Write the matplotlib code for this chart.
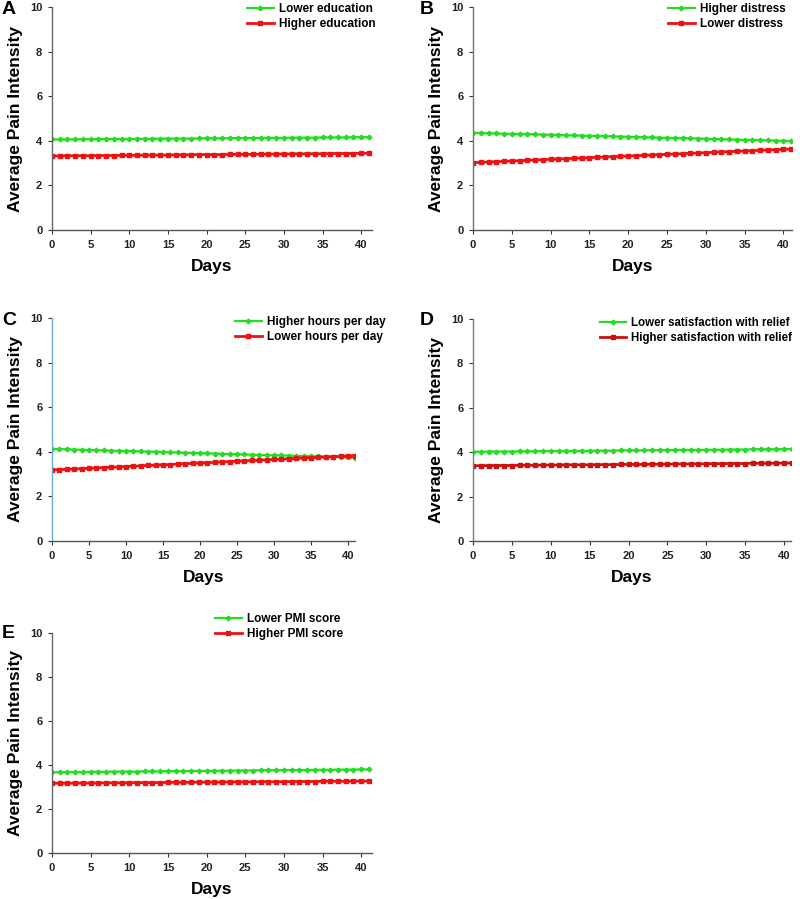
import matplotlib
matplotlib.use("Agg")
import matplotlib.pyplot as plt

plt.rcParams['font.family'] = ['Liberation Sans', 'DejaVu Sans']

days = list(range(42))

a_green = [4.06, 4.06, 4.06, 4.07, 4.07, 4.07, 4.07, 4.08, 4.08, 4.08, 4.08, 4.09, 4.09, 4.09,
           4.09, 4.10, 4.10, 4.10, 4.10, 4.11, 4.11, 4.11, 4.11, 4.12, 4.12, 4.12, 4.12, 4.13,
           4.13, 4.13, 4.13, 4.14, 4.14, 4.14, 4.14, 4.15, 4.15, 4.15, 4.15, 4.16, 4.16, 4.16]
a_red = [3.32, 3.32, 3.33, 3.33, 3.33, 3.33, 3.34, 3.34, 3.34, 3.35, 3.35, 3.35, 3.36, 3.36,
         3.36, 3.36, 3.37, 3.37, 3.37, 3.38, 3.38, 3.38, 3.38, 3.39, 3.39, 3.39, 3.40, 3.40,
         3.40, 3.40, 3.41, 3.41, 3.41, 3.42, 3.42, 3.42, 3.43, 3.43, 3.43, 3.43, 3.44, 3.44]
b_green = [4.36, 4.35, 4.34, 4.33, 4.32, 4.31, 4.31, 4.30, 4.29, 4.28, 4.27, 4.26, 4.25, 4.24,
           4.23, 4.22, 4.22, 4.21, 4.20, 4.19, 4.18, 4.17, 4.16, 4.15, 4.14, 4.13, 4.13, 4.12,
           4.11, 4.10, 4.09, 4.08, 4.07, 4.06, 4.05, 4.04, 4.04, 4.03, 4.02, 4.01, 4.00, 3.99]
b_red = [3.02, 3.03, 3.05, 3.06, 3.08, 3.09, 3.11, 3.12, 3.14, 3.15, 3.17, 3.18, 3.20, 3.21,
         3.23, 3.24, 3.26, 3.27, 3.29, 3.30, 3.32, 3.33, 3.35, 3.36, 3.38, 3.39, 3.41, 3.42,
         3.44, 3.45, 3.47, 3.48, 3.50, 3.51, 3.53, 3.54, 3.56, 3.57, 3.59, 3.60, 3.62, 3.63]
c_green = [4.13, 4.12, 4.11, 4.10, 4.09, 4.08, 4.07, 4.06, 4.05, 4.04, 4.03, 4.03, 4.02, 4.01,
           4.00, 3.99, 3.98, 3.97, 3.96, 3.95, 3.94, 3.93, 3.92, 3.91, 3.90, 3.89, 3.88, 3.87,
           3.86, 3.85, 3.84, 3.84, 3.83, 3.82, 3.81, 3.80, 3.79, 3.78, 3.77, 3.76, 3.75, 3.74]
c_red = [3.18, 3.20, 3.21, 3.23, 3.24, 3.26, 3.28, 3.29, 3.31, 3.32, 3.34, 3.35, 3.37, 3.39,
         3.40, 3.42, 3.43, 3.45, 3.47, 3.48, 3.50, 3.51, 3.53, 3.54, 3.56, 3.58, 3.59, 3.61,
         3.62, 3.64, 3.66, 3.67, 3.69, 3.70, 3.72, 3.73, 3.75, 3.77, 3.78, 3.80, 3.81, 3.83]
d_green = [4.02, 4.02, 4.03, 4.03, 4.03, 4.03, 4.04, 4.04, 4.04, 4.05, 4.05, 4.05, 4.06, 4.06,
           4.06, 4.06, 4.07, 4.07, 4.07, 4.08, 4.08, 4.08, 4.08, 4.09, 4.09, 4.09, 4.10, 4.10,
           4.10, 4.10, 4.11, 4.11, 4.11, 4.12, 4.12, 4.12, 4.13, 4.13, 4.13, 4.13, 4.14, 4.14]
d_red = [3.39, 3.39, 3.40, 3.40, 3.40, 3.40, 3.41, 3.41, 3.41, 3.42, 3.42, 3.42, 3.43, 3.43,
         3.43, 3.43, 3.44, 3.44, 3.44, 3.45, 3.45, 3.45, 3.45, 3.46, 3.46, 3.46, 3.47, 3.47,
         3.47, 3.47, 3.48, 3.48, 3.48, 3.49, 3.49, 3.49, 3.50, 3.50, 3.50, 3.50, 3.51, 3.51]
e_green = [3.67, 3.67, 3.68, 3.68, 3.68, 3.69, 3.69, 3.69, 3.70, 3.70, 3.70, 3.70, 3.71, 3.71,
           3.71, 3.72, 3.72, 3.72, 3.73, 3.73, 3.73, 3.74, 3.74, 3.74, 3.75, 3.75, 3.75, 3.76,
           3.76, 3.76, 3.77, 3.77, 3.77, 3.77, 3.78, 3.78, 3.78, 3.79, 3.79, 3.79, 3.80, 3.80]
e_red = [3.17, 3.17, 3.17, 3.18, 3.18, 3.18, 3.18, 3.19, 3.19, 3.19, 3.19, 3.20, 3.20, 3.20,
         3.20, 3.21, 3.21, 3.21, 3.21, 3.22, 3.22, 3.22, 3.22, 3.23, 3.23, 3.23, 3.23, 3.24,
         3.24, 3.24, 3.24, 3.25, 3.25, 3.25, 3.25, 3.26, 3.26, 3.26, 3.26, 3.27, 3.27, 3.27]

panel_letters = ["A", "B", "C", "D", "E"]
green_labels = ["Lower education", "Higher distress", "Higher hours per day",
                "Lower satisfaction with relief", "Lower PMI score"]
red_labels = ["Higher education", "Lower distress", "Lower hours per day",
              "Higher satisfaction with relief", "Higher PMI score"]
greens = [a_green, b_green, c_green, d_green, e_green]
reds = [a_red, b_red, c_red, d_red, e_red]
x_ticks = [0, 5, 10, 15, 20, 25, 30, 35, 40]
y_ticks = [0, 2, 4, 6, 8, 10]

W, H = 800, 899
fig = plt.figure(figsize=(W / 100, H / 100), dpi=100)

# layout in pixels: left, right, top, bottom, xmax, legend x, legend y, legend size,
# letter x, letter y, spine color
layout = [
    (52, 372, 7, 230, 41.4, 241, -3, 8.5, 2, 10, '#666666'),
    (473, 792, 7, 230, 41.1, 662, -3, 8.5, 420, 10, '#5f7f70'),
    (52, 355, 318, 541, 40.95, 229, 310, 8.5, 2, 320, '#6aaccc'),
    (473, 791, 319, 541, 40.9, 594, 311, 8.3, 420, 320, '#5f8f70'),
    (52, 372, 633, 853, 41.4, 209, 607, 8.5, 2, 633, '#666666'),
]
red_colors = ['#ee1111', '#ee1111', '#ee1111', '#cc1111', '#ee1111']
green_color = '#22dd22'

for i, (l, r, t, b, xmax, lx, ly, lsz, px, py, sc) in enumerate(layout):
    ax = fig.add_axes([l / W, 1 - b / H, (r - l) / W, (b - t) / H])
    ax.plot(days, greens[i], color=green_color, lw=1.6, marker='D', ms=2.4,
            mec=green_color, label=green_labels[i])
    ax.plot(days, reds[i], color=red_colors[i], lw=2.0, marker='s', ms=2.8,
            mec=red_colors[i], label=red_labels[i])
    ax.set_xlim(0, xmax)
    ax.set_ylim(0, 10)
    ax.set_xticks(x_ticks)
    ax.set_yticks(y_ticks)
    for s in ['top', 'right']:
        ax.spines[s].set_visible(False)
    ax.spines['left'].set_color(sc)
    ax.spines['bottom'].set_color('#555555')
    ax.spines['left'].set_linewidth(1.0)
    ax.spines['bottom'].set_linewidth(1.0)
    ax.tick_params(length=3, width=0.8, colors='#333333', labelsize=8, pad=4)
    for lab in ax.get_xticklabels() + ax.get_yticklabels():
        lab.set_fontweight('bold')
        lab.set_color('#222222')
    ax.set_ylabel("Average Pain Intensity", fontsize=12.5, fontweight='bold', labelpad=5)
    ax.set_xlabel("Days", fontsize=12.5, fontweight='bold', labelpad=7)
    ax.legend(loc='upper left', bbox_to_anchor=(lx / W, 1 - ly / H),
              bbox_transform=fig.transFigure, frameon=False, borderpad=0,
              handlelength=2.3, handletextpad=0.45, labelspacing=0.25,
              prop={'weight': 'bold', 'size': lsz})
    fig.text(px / W, 1 - py / H, panel_letters[i], fontsize=14, fontweight='bold',
             ha='left', va='center')

fig.savefig("out.png", dpi=100)
